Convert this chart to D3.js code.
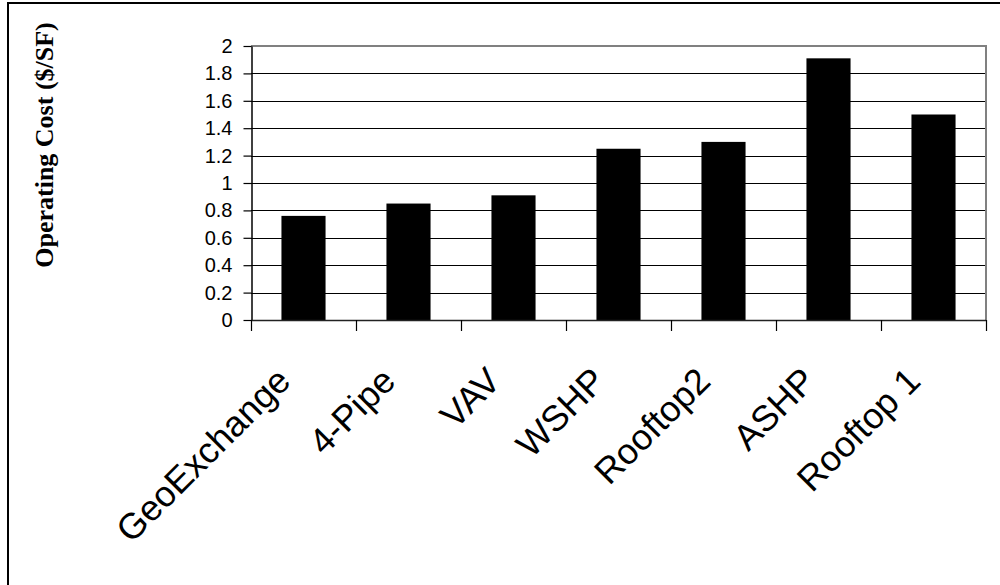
<!DOCTYPE html>
<html>
<head>
<meta charset="utf-8">
<script src="https://cdn.jsdelivr.net/npm/d3@7"></script>
<style>
  html, body { margin: 0; padding: 0; background: #fff; }
  svg { display: block; }
</style>
</head>
<body>
<svg id="chart" width="1000" height="585"></svg>
<script>
// Annual operating cost per square foot, by HVAC system type
const categories = ["GeoExchange", "4-Pipe", "VAV", "WSHP", "Rooftop2", "ASHP", "Rooftop 1"];
const costs = [0.76, 0.85, 0.91, 1.25, 1.30, 1.91, 1.50];
const yTickValues = [0, 0.2, 0.4, 0.6, 0.8, 1, 1.2, 1.4, 1.6, 1.8, 2];
const yTickLabels = ["0", "0.2", "0.4", "0.6", "0.8", "1", "1.2", "1.4", "1.6", "1.8", "2"];
const yTitle = "Operating Cost ($/SF)";

const svg = d3.select("#chart");
const plot = { left: 251, right: 986, top: 46, bottom: 320 };

// Outer frame (continues past the right and bottom edges)
svg.append("rect")
  .attr("x", 8).attr("y", 3)
  .attr("width", 1100).attr("height", 700)
  .attr("fill", "#fff")
  .attr("stroke", "#000")
  .attr("stroke-width", 2);

const x = d3.scaleBand()
  .domain(categories)
  .range([plot.left, plot.right])
  .padding(0);

const y = d3.scaleLinear()
  .domain([0, 2])
  .range([plot.bottom, plot.top]);

// Horizontal gridlines
svg.append("g")
  .selectAll("line")
  .data(yTickValues.filter(v => v > 0 && v < 2))
  .join("line")
  .attr("x1", plot.left).attr("x2", plot.right)
  .attr("y1", d => Math.round(y(d)) + 0.5)
  .attr("y2", d => Math.round(y(d)) + 0.5)
  .attr("stroke", "#000")
  .attr("stroke-width", 1);

// Plot area top and right edges
svg.append("path")
  .attr("d", `M${plot.left},${y(2)}H${plot.right}V${plot.bottom}`)
  .attr("fill", "none")
  .attr("stroke", "#808080")
  .attr("stroke-width", 2);

// Bars
const barWidth = x.bandwidth() * 0.42;
svg.append("g")
  .selectAll("rect")
  .data(categories.map((c, i) => ({ c, v: costs[i] })))
  .join("rect")
  .attr("x", d => x(d.c) + (x.bandwidth() - barWidth) / 2)
  .attr("y", d => y(d.v))
  .attr("width", barWidth)
  .attr("height", d => y(0) - y(d.v))
  .attr("fill", "#000");

// Y axis
const yAxis = d3.axisLeft(y)
  .tickValues(yTickValues)
  .tickFormat((d, i) => yTickLabels[i])
  .tickSize(8)
  .tickSizeOuter(0)
  .tickPadding(11);

const gy = svg.append("g")
  .attr("transform", `translate(${plot.left + 0.5},0)`)
  .call(yAxis);
gy.select(".domain").attr("stroke", "#000").attr("stroke-width", 1.5);
gy.selectAll(".tick line").attr("stroke", "#000").attr("stroke-width", 1.2);
gy.selectAll(".tick text")
  .attr("font-family", "Liberation Sans, Arial, sans-serif")
  .attr("font-size", 20)
  .attr("fill", "#000");

// X axis: ticks sit on category boundaries
const boundaries = categories.map(c => x(c)).concat([plot.right]);
const gx = svg.append("g");
gx.append("line")
  .attr("x1", plot.left).attr("x2", plot.right)
  .attr("y1", plot.bottom + 0.5).attr("y2", plot.bottom + 0.5)
  .attr("stroke", "#222")
  .attr("stroke-width", 1.5);
gx.selectAll("line.tick")
  .data(boundaries)
  .join("line")
  .attr("class", "tick")
  .attr("x1", d => Math.round(d) + 0.5).attr("x2", d => Math.round(d) + 0.5)
  .attr("y1", plot.bottom).attr("y2", plot.bottom + 11)
  .attr("stroke", "#000")
  .attr("stroke-width", 1.2);

// Rotated category labels, each ending just left of its category centre
gx.selectAll("text")
  .data(categories)
  .join("text")
  .attr("transform", d => `translate(${x(d) + x.bandwidth() / 2 - 11},383) rotate(-45)`)
  .attr("text-anchor", "end")
  .attr("font-family", "Liberation Sans, Arial, sans-serif")
  .attr("font-size", 36)
  .attr("fill", "#000")
  .text(d => d);

// Y axis title
svg.append("text")
  .attr("transform", "translate(53,145) rotate(-90)")
  .attr("text-anchor", "middle")
  .attr("font-family", "Liberation Serif, Times New Roman, serif")
  .attr("font-weight", "bold")
  .attr("font-size", 26)
  .attr("fill", "#000")
  .text(yTitle);
</script>
</body>
</html>
